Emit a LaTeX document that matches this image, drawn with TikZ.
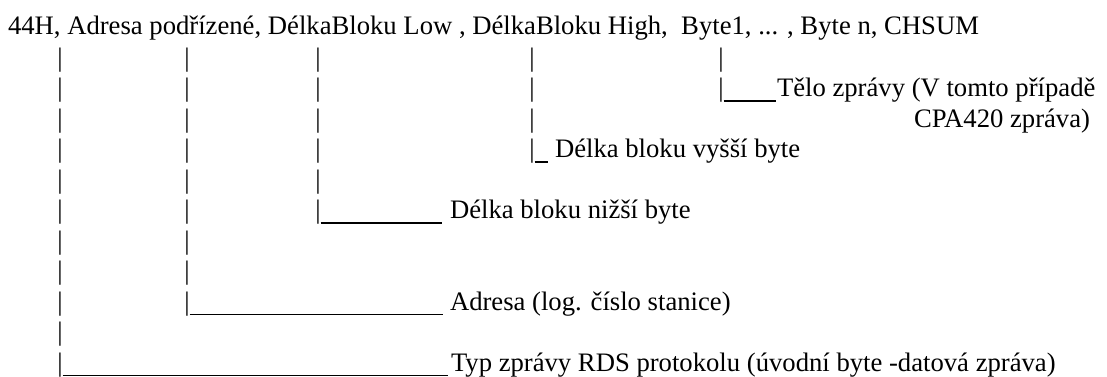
\documentclass[tikz,border=0pt]{standalone}
\usepackage{fontspec}
\setmainfont{Liberation Serif}
\begin{document}
\begin{tikzpicture}[x=0.75pt,y=-0.75pt,
  every node/.style={inner sep=0pt,outer sep=0pt,font=\fontsize{20}{24}\selectfont},
  pipe/.style={anchor=base},
  lbl/.style={anchor=base west},
  under/.style={line width=0.9pt}]
\useasboundingbox (0,0) rectangle (1107,377);
\node[lbl] (head) at (8,35) {44H, Adresa podřízené, DélkaBloku Low , DélkaBloku High,\ \ Byte1, ... , Byte n, CHSUM};
% pipes
\foreach \r in {1,...,11} \node[pipe] (pA\r) at (60,{66.5+30.5*(\r-1)}) {|};
\foreach \r in {1,...,9} \node[pipe] (pB\r) at (187,{66.5+30.5*(\r-1)}) {|};
\foreach \r in {1,...,6} \node[pipe] (pC\r) at (318,{66.5+30.5*(\r-1)}) {|};
\foreach \r in {1,...,4} \node[pipe] (pD\r) at (532,{66.5+30.5*(\r-1)}) {|};
\foreach \r in {1,...,2} \node[pipe] (pE\r) at (721,{66.5+30.5*(\r-1)}) {|};
% labels
\node[lbl] (telo) at (777,97) {Tělo zprávy (V tomto případě};
\node[lbl] (cpa) at (914,127.5) {CPA420 zpráva)};
\node[lbl] (vyssi) at (555,158) {Délka bloku vyšší byte};
\node[lbl] (nizsi) at (450,219) {Délka bloku nižší byte};
\node[lbl] (adresa) at (450,310.5) {Adresa (log. číslo stanice)};
\node[lbl] (typ) at (451,371.5) {Typ zprávy RDS protokolu (úvodní byte -datová zpráva)};
% underscores
\draw[under] ([yshift=-3pt]pE2.base east) -- ([xshift=-1pt,yshift=-3pt]telo.base west);
\draw[under] ([yshift=-3pt]pD4.base east) -- ([xshift=-5pt,yshift=-3pt]vyssi.base west);
\draw[under] ([yshift=-3pt]pC6.base east) -- ([xshift=-6pt,yshift=-3pt]nizsi.base west);
\draw[under] ([yshift=-3pt]pB9.base east) -- ([xshift=-5pt,yshift=-3pt]adresa.base west);
\draw[under] ([yshift=-3pt]pA11.base east) -- ([xshift=-2pt,yshift=-3pt]typ.base west);
\end{tikzpicture}
\end{document}
